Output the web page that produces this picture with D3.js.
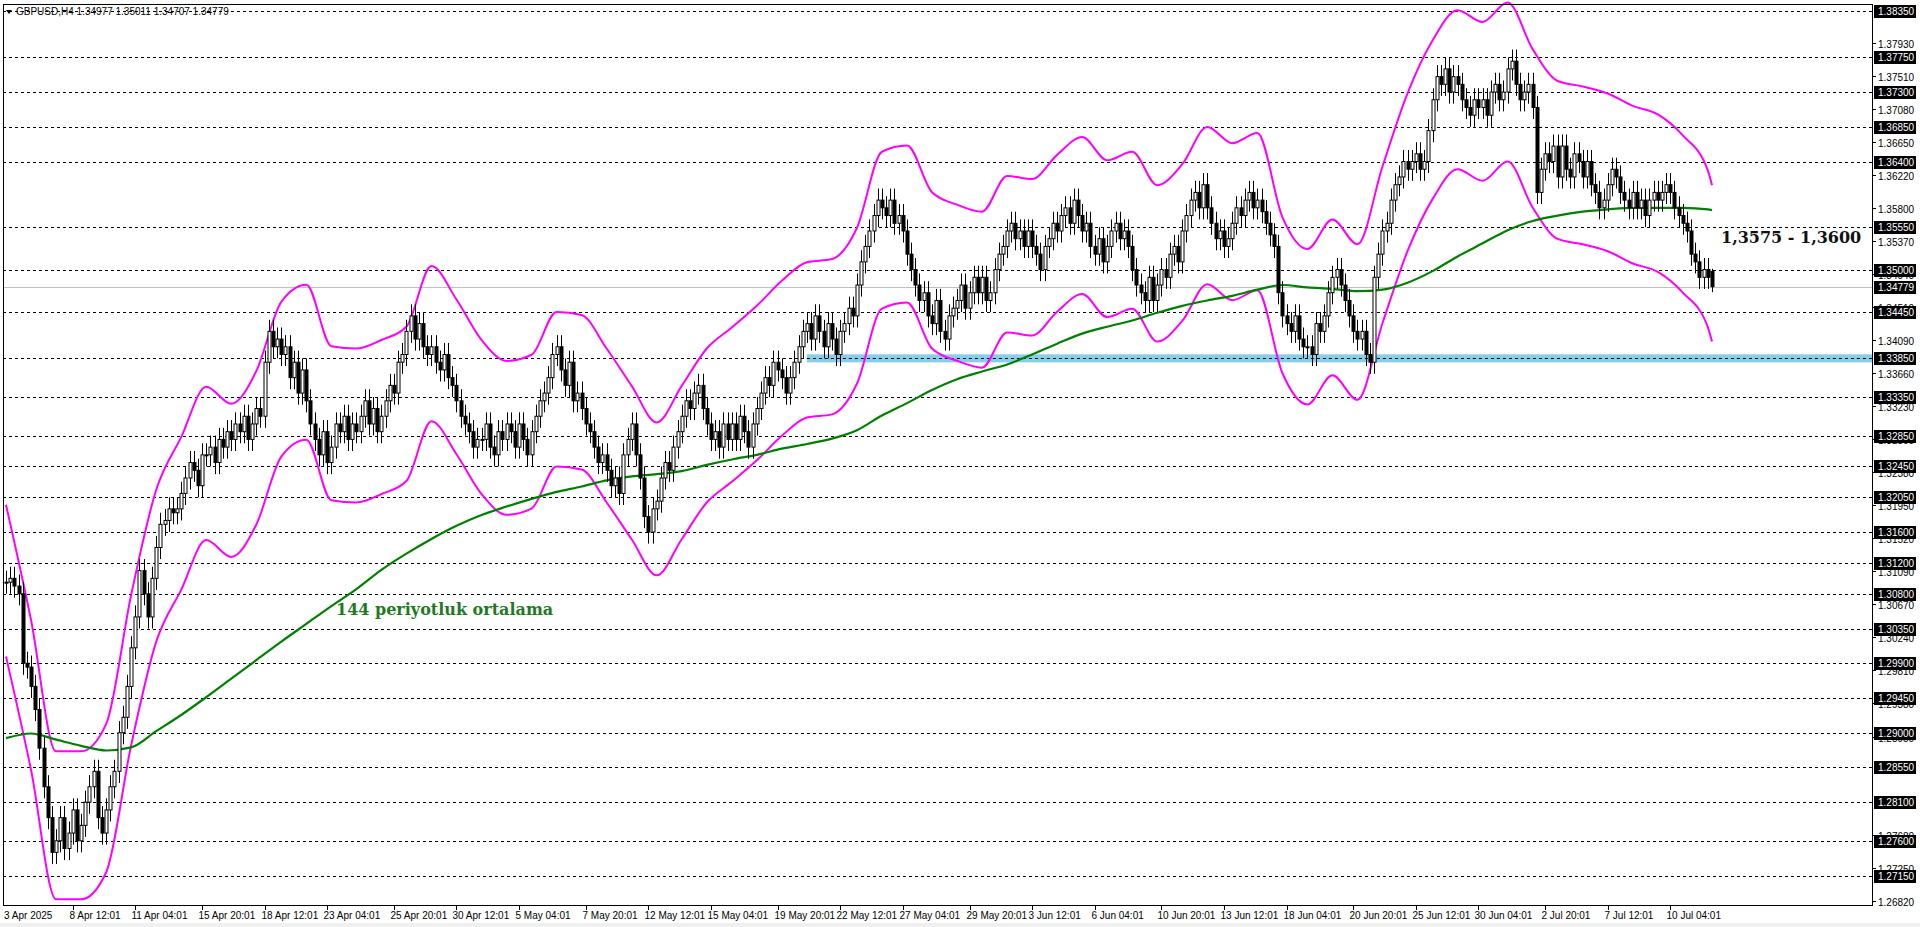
<!DOCTYPE html>
<html>
<head>
<meta charset="utf-8">
<script src="https://cdn.jsdelivr.net/npm/d3@7"></script>
<style>
  body { margin: 0; background: #fff; }
  svg { display: block; font-family: "Liberation Sans", Arial, sans-serif; }
</style>
</head>
<body>
<svg id="chart" width="1920" height="927"></svg>
<script>
// H4 closes, in pips above 1.0 (3095 = 1.3095), six candles per day
var closes = [
  3095,3100,3090,3080,2990,2985, 2960,2930,2880,2830,2790,2745, 2760,2790,2750,2770,2800,2760,
  2780,2810,2830,2850,2790,2770, 2800,2830,2850,2900,2920,2960, 3010,3050,3110,3080,3050,3100,
  3140,3170,3175,3190,3185,3190, 3210,3230,3250,3240,3220,3260, 3260,3270,3250,3280,3270,3290,
  3280,3300,3290,3310,3280,3300, 3320,3310,3380,3420,3400,3410, 3390,3400,3360,3380,3340,3370,
  3330,3300,3280,3260,3290,3250, 3270,3300,3290,3310,3280,3300, 3290,3310,3330,3300,3320,3290,
  3310,3330,3350,3340,3380,3390, 3420,3440,3410,3430,3400,3390, 3400,3380,3370,3390,3360,3350,
  3330,3310,3300,3290,3270,3280, 3280,3300,3270,3260,3290,3280, 3300,3290,3270,3300,3280,3260,
  3290,3310,3330,3340,3360,3390, 3400,3370,3350,3380,3330,3340, 3320,3300,3290,3270,3250,3260,
  3240,3220,3230,3210,3260,3280, 3300,3260,3230,3180,3160,3190, 3200,3230,3250,3240,3270,3290,
  3310,3330,3320,3340,3350,3320, 3300,3280,3290,3270,3300,3280, 3300,3280,3310,3290,3270,3300,
  3320,3340,3360,3350,3380,3370, 3360,3340,3360,3380,3400,3420, 3430,3410,3440,3420,3400,3430,
  3410,3390,3420,3430,3450,3440, 3480,3510,3530,3550,3570,3590, 3580,3570,3590,3560,3570,3550,
  3520,3500,3480,3460,3470,3440, 3430,3460,3420,3410,3440,3450, 3460,3480,3450,3470,3490,3470,
  3490,3460,3470,3500,3520,3530, 3550,3560,3540,3550,3530,3550, 3530,3520,3500,3530,3540,3560,
  3550,3570,3580,3560,3590,3570, 3550,3560,3530,3520,3540,3510, 3530,3550,3560,3540,3550,3530,
  3500,3480,3470,3460,3490,3460, 3480,3500,3490,3520,3530,3510, 3550,3570,3590,3600,3580,3610,
  3580,3560,3540,3550,3530,3540, 3560,3580,3570,3590,3600,3580, 3590,3575,3560,3545,3530,3470,
  3440,3430,3420,3440,3410,3400, 3400,3390,3430,3420,3440,3470, 3490,3500,3480,3460,3440,3420,
  3410,3420,3390,3380,3490,3520, 3550,3560,3590,3610,3620,3640, 3630,3640,3650,3630,3640,3680,
  3720,3750,3740,3760,3730,3750, 3740,3720,3710,3700,3720,3710, 3720,3700,3730,3740,3720,3730,
  3760,3770,3740,3720,3730,3740, 3710,3600,3630,3650,3640,3660, 3620,3660,3630,3620,3650,3640,
  3620,3640,3610,3600,3580,3590, 3610,3630,3620,3600,3590,3580, 3600,3580,3590,3570,3590,3600,
  3590,3600,3610,3600,3580,3570, 3560,3550,3520,3510,3490,3500, 3490,3478
];

// indicators read once per day (every 6th candle) plus the last candle, in 1/10000
var ma144 = [
  12893,12899,12891,12883,12877,12881,12902,12923,12946,12970,12994,13018,13041,13064,13086,13111,13132,13151,13168,13182,
  13193,13203,13212,13219,13227,13232,13235,13239,13247,13254,13260,13268,13274,13281,13292,13311,13327,13344,13358,13368,
  13377,13390,13404,13417,13426,13434,13444,13453,13460,13466,13474,13480,13477,13475,13472,13474,13483,13498,13517,13534,
  13551,13563,13570,13575,13578,13580,13580,13580,13578,13577
];
// centre line of the envelope indicator
var envMid = [
  13097,12949,12780,12780,12815,12981,13116,13184,13249,13227,13269,13358,13380,13301,13298,13309,13326,13404,13361,13309,
  13282,13290,13345,13341,13298,13250,13203,13250,13298,13325,13353,13385,13409,13413,13453,13551,13559,13499,13483,13474,
  13520,13516,13547,13570,13540,13551,13508,13535,13583,13562,13575,13467,13426,13464,13432,13532,13626,13694,13733,13718,
  13743,13683,13642,13635,13626,13610,13599,13572,13527,13508
];
var envDeviation = 0.0075;

var gridLevels = [1.3835,1.3775,1.3730,1.3685,1.3640,1.3555,1.3500,1.3445,1.3385,1.3335,1.3285,1.3245,
  1.3205,1.3160,1.3120,1.3080,1.3035,1.2990,1.2945,1.2900,1.2855,1.2810,1.2760,1.2715];
var minorLevels = [1.3793,1.3751,1.3708,1.3665,1.3622,1.3580,1.3537,1.3494,1.3451,1.3409,1.3366,1.3323,
  1.3280,1.3238,1.3195,1.3152,1.3109,1.3067,1.3024,1.2981,1.2938,1.2895,1.2768,1.2725,1.2682];
var lastPrice = 1.34779;
var supportLevel = 1.3385;

var timeLabels = ["3 Apr 2025","8 Apr 12:01","11 Apr 04:01","15 Apr 20:01","18 Apr 12:01","23 Apr 04:01",
  "25 Apr 20:01","30 Apr 12:01","5 May 04:01","7 May 20:01","12 May 12:01","15 May 04:01","19 May 20:01",
  "22 May 12:01","27 May 04:01","29 May 20:01","3 Jun 12:01","6 Jun 04:01","10 Jun 20:01","13 Jun 12:01",
  "18 Jun 04:01","20 Jun 20:01","25 Jun 12:01","30 Jun 04:01","2 Jul 20:01","7 Jul 12:01","10 Jul 04:01"];
var timeLabelIdx = [0,16,31,47,62,77,93,108,123,139,154,169,185,200,215,231,246,261,277,292,307,323,338,353,369,384,399];

var chart = {
  svg: null,
  x: null,
  y: null,
  left: 3,
  right: 1872,
  top: 4,
  bottom: 905,
  candles: [],
  init: function() {
    this.svg = d3.select('#chart');
    this.initScales();
    this.buildCandles();
    this.drawGrid();
    this.drawSupport();
    this.drawIndicators();
    this.drawCandles();
    this.drawFrame();
    this.drawPriceAxis();
    this.drawTimeAxis();
    this.drawNotes();
  },
  initScales: function() {
    this.x = d3.scaleLinear().domain([0, closes.length - 1]).range([6, 1712]);
    this.y = d3.scaleLinear().domain([1.3835, 1.2682]).range([11, 901]);
  },
  buildCandles: function() {
    var prev = closes[0];
    this.candles = closes.map(function(c, i) {
      var o = 1 + prev / 10000, cl = 1 + c / 10000;
      prev = c;
      return { i: i, o: o, c: cl, h: Math.max(o, cl) + 0.0015, l: Math.min(o, cl) - 0.0015 };
    });
    var last = this.candles[this.candles.length - 1];
    last.o = 1.34977; last.h = 1.35011; last.l = 1.34707; last.c = lastPrice;
  },
  drawGrid: function() {
    var _self = this;
    this.svg.append('g').selectAll('line').data(gridLevels).enter().append('line')
      .attr('x1', this.left).attr('x2', this.right)
      .attr('y1', function(d){ return Math.round(_self.y(d)) + 0.5; })
      .attr('y2', function(d){ return Math.round(_self.y(d)) + 0.5; })
      .attr('stroke', '#000').attr('stroke-dasharray', '3,3');
    this.svg.append('line')
      .attr('x1', this.left).attr('x2', this.right)
      .attr('y1', Math.round(this.y(lastPrice)) + 0.5).attr('y2', Math.round(this.y(lastPrice)) + 0.5)
      .attr('stroke', '#c0c0c0');
  },
  drawSupport: function() {
    var x0 = this.x(192);
    this.svg.append('rect')
      .attr('x', x0).attr('width', this.right - x0)
      .attr('y', this.y(supportLevel) - 4).attr('height', 8)
      .attr('fill', '#87ceeb');
    this.svg.append('line')
      .attr('x1', x0).attr('x2', this.right)
      .attr('y1', Math.round(this.y(supportLevel)) + 0.5).attr('y2', Math.round(this.y(supportLevel)) + 0.5)
      .attr('stroke', '#000').attr('stroke-dasharray', '3,3');
  },
  drawIndicators: function() {
    var _self = this;
    var idxOf = function(k) { return k < 69 ? k * 6 : closes.length - 1; };
    var lineFor = function(factor) {
      return d3.line()
        .x(function(d, k){ return _self.x(idxOf(k)); })
        .y(function(d){ return _self.y(d / 10000 * factor); })
        .curve(d3.curveMonotoneX);
    };
    [1 + envDeviation, 1 - envDeviation].forEach(function(f) {
      _self.svg.append('path').datum(envMid).attr('d', lineFor(f))
        .attr('fill', 'none').attr('stroke', '#ff00ff').attr('stroke-width', 2);
    });
    this.svg.append('path').datum(ma144).attr('d', lineFor(1))
      .attr('fill', 'none').attr('stroke', '#008000').attr('stroke-width', 2.2);
  },
  drawCandles: function() {
    var _self = this;
    var g = this.svg.append('g');
    var c = g.selectAll('g').data(this.candles).enter().append('g');
    c.append('line')
      .attr('x1', function(d){ return Math.round(_self.x(d.i)) + 0.5; })
      .attr('x2', function(d){ return Math.round(_self.x(d.i)) + 0.5; })
      .attr('y1', function(d){ return _self.y(d.h); })
      .attr('y2', function(d){ return _self.y(d.l); })
      .attr('stroke', '#000');
    c.append('rect')
      .attr('x', function(d){ return Math.round(_self.x(d.i)) - 1; })
      .attr('width', 3)
      .attr('y', function(d){ return _self.y(Math.max(d.o, d.c)); })
      .attr('height', function(d){ return Math.max(1, Math.abs(_self.y(d.o) - _self.y(d.c))); })
      .attr('fill', function(d){ return d.c >= d.o ? '#fff' : '#000'; })
      .attr('stroke', '#000').attr('stroke-width', 1);
  },
  drawFrame: function() {
    this.svg.append('rect')
      .attr('x', this.left + 0.5).attr('y', this.top + 0.5)
      .attr('width', this.right - this.left).attr('height', this.bottom - this.top)
      .attr('fill', 'none').attr('stroke', '#000');
    this.svg.append('path').attr('d', 'M6,10 L12,10 L9,14 Z').attr('fill', '#000');
    this.svg.append('text').attr('x', 16).attr('y', 15)
      .attr('font-size', 10).attr('fill', '#000')
      .text('GBPUSD,H4  1.34977 1.35011 1.34707 1.34779');
  },
  drawPriceAxis: function() {
    var _self = this;
    var ax = this.svg.append('g');
    minorLevels.forEach(function(v) {
      var yy = Math.round(_self.y(v)) + 0.5;
      ax.append('line').attr('x1', _self.right).attr('x2', _self.right + 4)
        .attr('y1', yy).attr('y2', yy).attr('stroke', '#000');
      ax.append('text').attr('x', 1878).attr('y', yy + 4)
        .attr('font-size', 10).attr('fill', '#000').text(v.toFixed(5));
    });
    gridLevels.concat([lastPrice]).forEach(function(v) {
      var yy = Math.round(_self.y(v));
      ax.append('rect').attr('x', 1874).attr('y', yy - 6)
        .attr('width', 42).attr('height', 13).attr('fill', '#000');
      ax.append('text').attr('x', 1878).attr('y', yy + 4)
        .attr('font-size', 10).attr('fill', '#fff').text(v.toFixed(5));
    });
  },
  drawTimeAxis: function() {
    var _self = this;
    var ax = this.svg.append('g');
    timeLabelIdx.forEach(function(idx, k) {
      var xx = Math.round(_self.x(idx)) + 0.5;
      if (k > 0) {
        ax.append('line').attr('x1', xx).attr('x2', xx)
          .attr('y1', _self.bottom).attr('y2', _self.bottom + 5).attr('stroke', '#000');
      }
      ax.append('text').attr('x', k === 0 ? 4 : xx - 4).attr('y', 919)
        .attr('font-size', 10).attr('fill', '#000').text(timeLabels[k]);
    });
    this.svg.append('rect').attr('x', 0).attr('y', 923).attr('width', 1920).attr('height', 4).attr('fill', '#f0f0f0');
  },
  drawNotes: function() {
    this.svg.append('text').attr('x', 336).attr('y', 615)
      .attr('font-family', '"DejaVu Serif", serif').attr('font-size', 16).attr('font-weight', 'bold')
      .attr('fill', '#1f7a1f').text('144 periyotluk ortalama');
    this.svg.append('text').attr('x', 1721).attr('y', 243)
      .attr('font-family', '"DejaVu Serif", serif').attr('font-size', 16).attr('font-weight', 'bold')
      .attr('fill', '#111').text('1,3575 - 1,3600');
  }
};

chart.init();
</script>
</body>
</html>
